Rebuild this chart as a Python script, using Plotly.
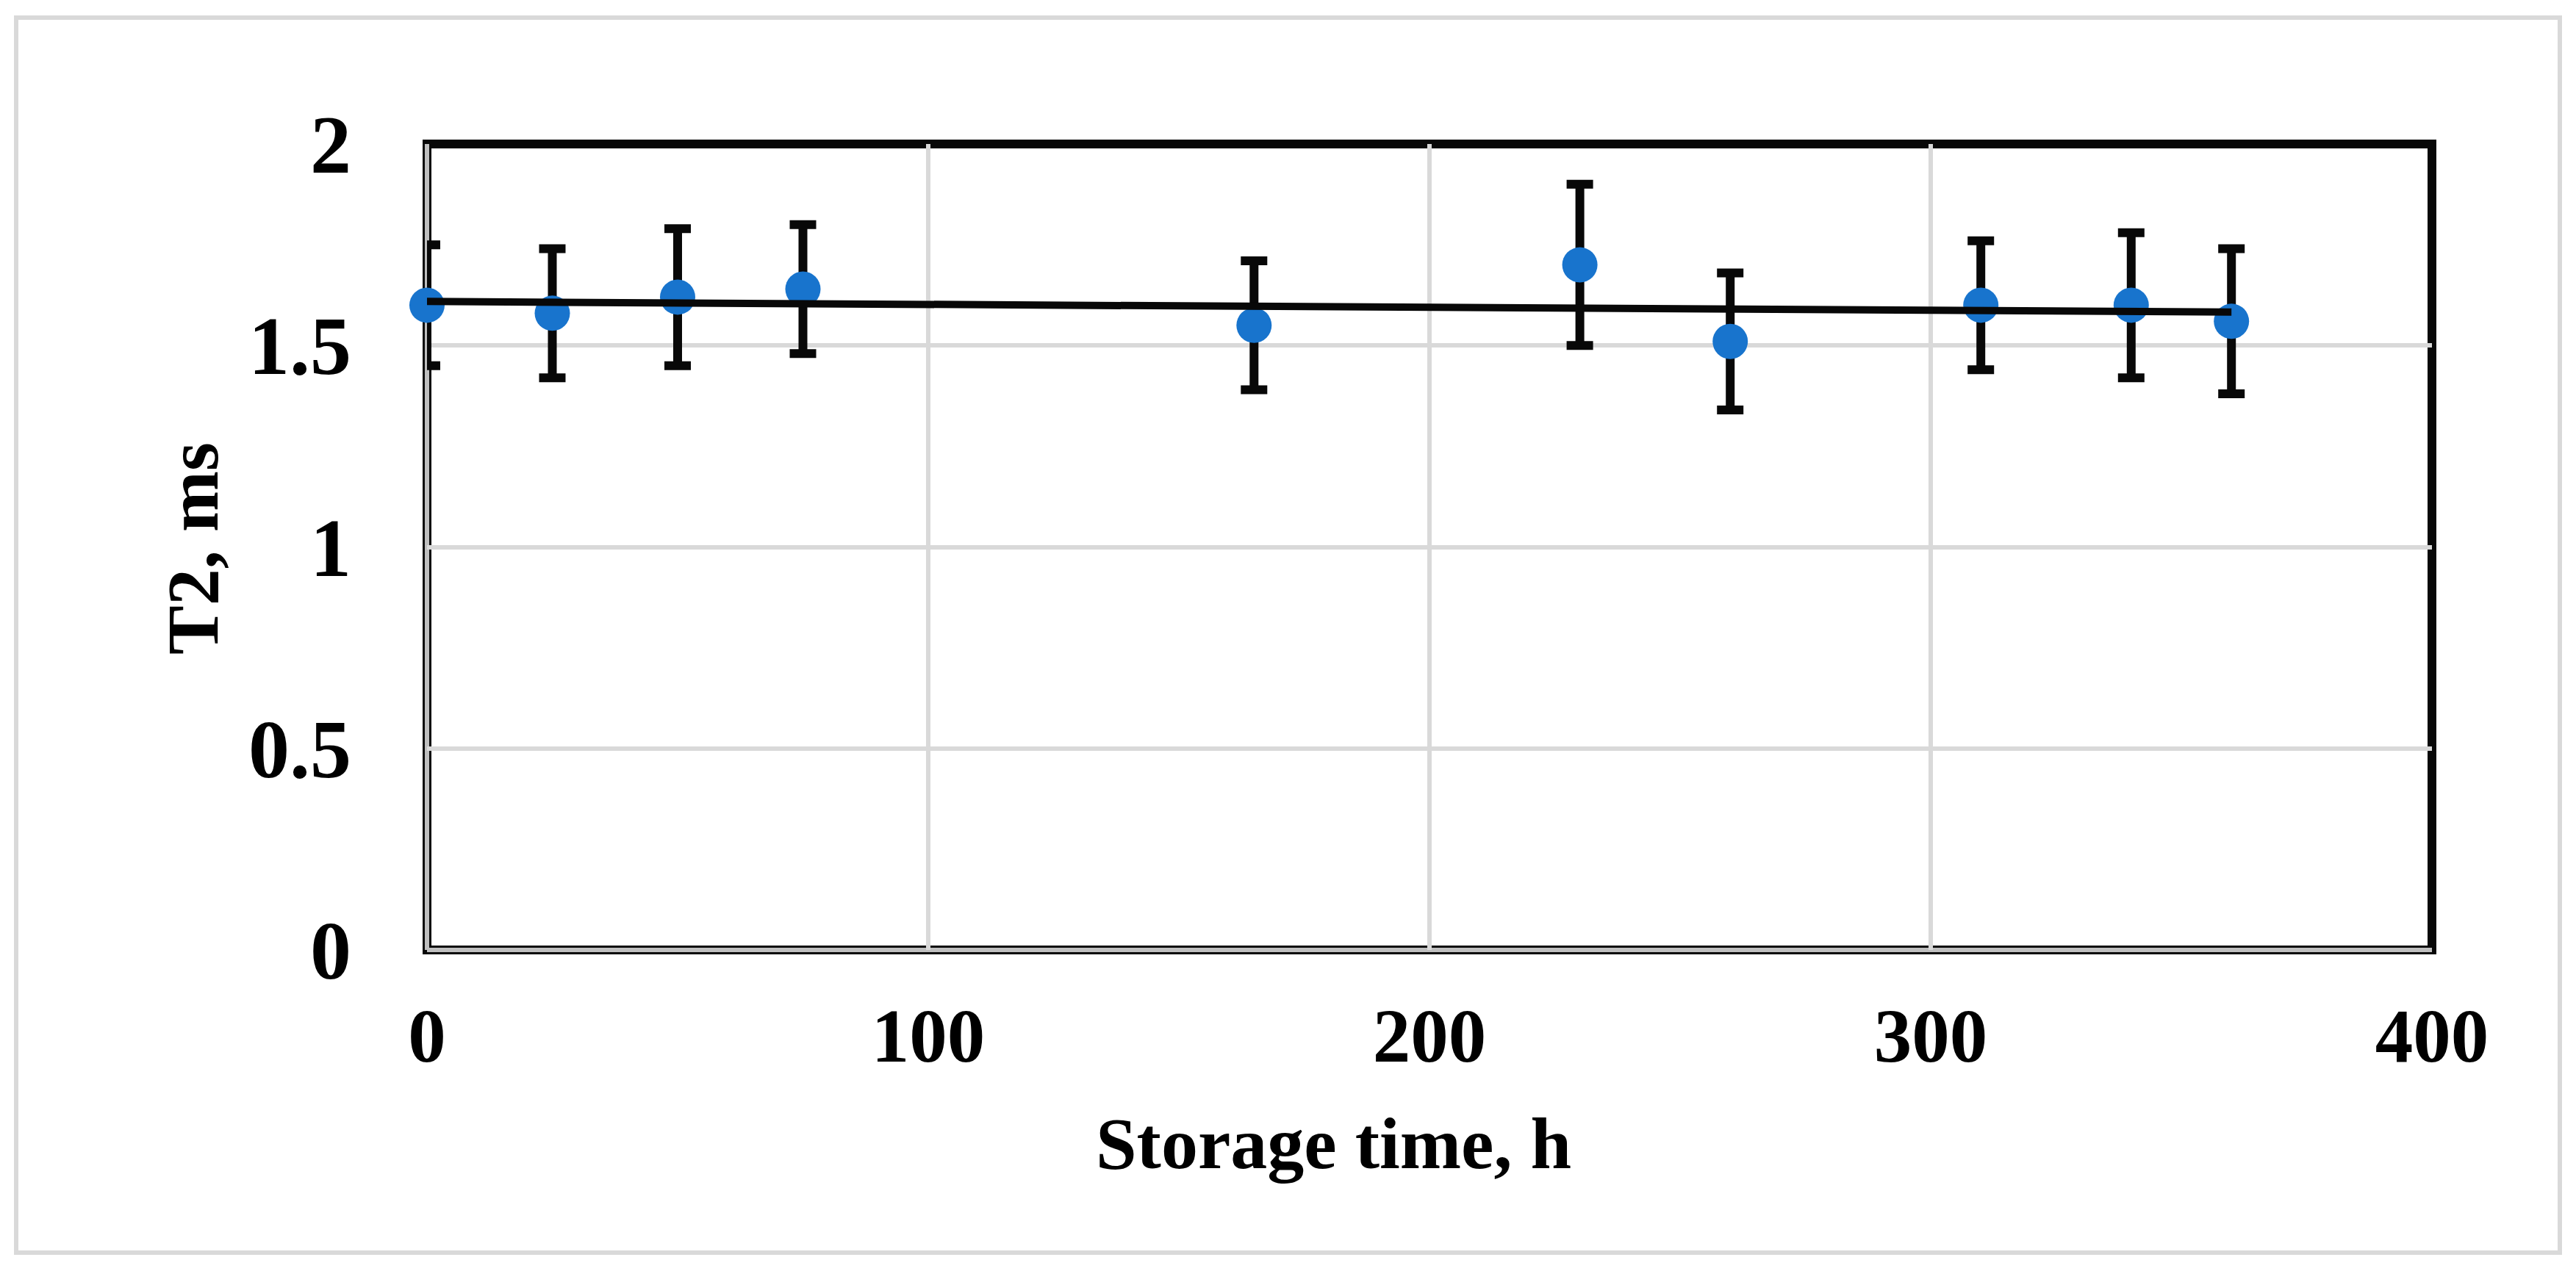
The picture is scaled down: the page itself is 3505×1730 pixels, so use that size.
import numpy as np
import plotly.graph_objects as go

# Data
storage_time_h = [0, 25, 50, 75, 165, 230, 260, 310, 340, 360]
t2_ms = [1.60, 1.58, 1.62, 1.64, 1.55, 1.70, 1.51, 1.60, 1.60, 1.56]
t2_err = [0.15, 0.16, 0.17, 0.16, 0.16, 0.20, 0.17, 0.16, 0.18, 0.18]

x_ticks = [0, 100, 200, 300, 400]
y_ticks = [0, 0.5, 1, 1.5, 2]

# page body has an 8px margin; work in page pixels and convert
OFF = 8
W, H = 3505 - 2 * OFF, 1730 - 2 * OFF
PL, PR, PT, PB = 581, 3309, 196, 1293          # plot area in page pixels
L, R, T, B = PL - OFF, W - (PR - OFF), PT - OFF, H - (PB - OFF)
pw, ph = W - L - R, H - T - B

def px(xp):
    return (xp - OFF - L) / pw

def py(yp):
    return (H - (yp - OFF) - B) / ph

FONT = "Liberation Serif"

# linear trend line fitted to the data
slope, intercept = np.polyfit(storage_time_h, t2_ms, 1)
trend_x = [min(storage_time_h), max(storage_time_h)]
trend_y = [slope * v + intercept for v in trend_x]

fig = go.Figure()

# error bars (clipped to plot area)
fig.add_trace(go.Scatter(
    x=storage_time_h, y=t2_ms, mode="markers",
    marker=dict(size=2, color="rgba(0,0,0,0)"),
    error_y=dict(type="data", array=t2_err, visible=True,
                 color="#080808", thickness=12, width=18),
    cliponaxis=True, showlegend=False, hoverinfo="skip",
))
# markers
fig.add_trace(go.Scatter(
    x=storage_time_h, y=t2_ms, mode="markers",
    marker=dict(size=48, color="#1874CD", line=dict(width=0)),
    cliponaxis=False, showlegend=False,
))
# trend line
fig.add_trace(go.Scatter(
    x=trend_x, y=trend_y, mode="lines",
    line=dict(color="#080808", width=10),
    cliponaxis=False, showlegend=False,
))

fig.update_xaxes(
    range=[0, 400], tickvals=x_ticks, ticktext=[str(v) for v in x_ticks],
    showgrid=True, gridcolor="#d9d9d9", gridwidth=6,
    zeroline=False, showline=False, ticks="",
    tickfont=dict(family=FONT, size=103, color="black", weight="bold"),
    ticklabelstandoff=48,
)
fig.update_yaxes(
    range=[0, 2], tickvals=y_ticks, ticktext=[f"{v:g}" for v in y_ticks],
    showgrid=True, gridcolor="#d9d9d9", gridwidth=6,
    zeroline=False, showline=False, ticks="",
    tickfont=dict(family=FONT, size=112, color="black", weight="bold"),
    ticklabelstandoff=102,
)

shapes = [
    # outer chart frame
    dict(type="rect", xref="paper", yref="paper",
         x0=px(22), x1=px(3483), y0=py(1705), y1=py(24),
         line=dict(color="#d9d9d9", width=6), fillcolor="rgba(0,0,0,0)", layer="below"),
    # plot area border
    dict(type="rect", xref="paper", yref="paper", x0=0, x1=1, y0=0, y1=1,
         line=dict(color="#080808", width=12), fillcolor="rgba(0,0,0,0)", layer="between"),
    dict(type="line", xref="paper", yref="paper", x0=0, x1=0, y0=0, y1=1,
         line=dict(color="#bfbfbf", width=6), layer="between"),
    dict(type="line", xref="paper", yref="paper", x0=0, x1=1, y0=0, y1=0,
         line=dict(color="#bfbfbf", width=6), layer="between"),
]

annotations = [
    dict(text="Storage time, h", xref="paper", yref="paper",
         x=px(1814), y=py(1556), xanchor="center", yanchor="middle",
         showarrow=False, font=dict(family=FONT, size=100, color="black", weight="bold")),
    dict(text="T2, ms", xref="paper", yref="paper", textangle=-90,
         x=px(262), y=py(747), xanchor="center", yanchor="middle",
         showarrow=False, font=dict(family=FONT, size=100, color="black", weight="bold")),
]

fig.update_layout(
    width=W, height=H,
    margin=dict(l=L, r=R, t=T, b=B, pad=0),
    paper_bgcolor="white", plot_bgcolor="white",
    shapes=shapes, annotations=annotations,
    showlegend=False,
)

fig.write_html("out.html")
